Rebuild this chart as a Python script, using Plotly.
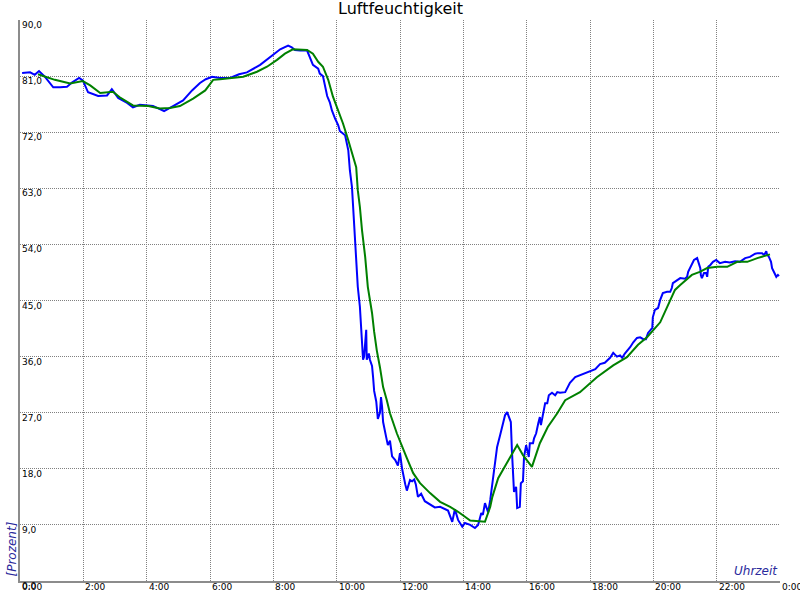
import plotly.graph_objects as go

# time in minutes after midnight, humidity in percent
blue_min = [4, 19, 28, 36, 47, 63, 76, 89, 99, 112, 119, 129, 148, 165, 174, 186, 203, 214, 227, 241,
            252, 265, 273, 290, 309, 326, 341, 352, 364, 379, 398, 415, 430, 455, 466, 478, 493, 508, 515, 521,
            531, 544, 550, 555, 565, 568, 574, 578, 582, 587, 591, 597, 603, 606, 612, 616, 622, 625, 629, 631,
            633, 635, 639, 640, 644, 646, 648, 650, 652, 654, 656, 657, 661, 663, 667, 669, 671, 675, 678, 682,
            684, 686, 688, 694, 697, 701, 705, 711, 716, 720, 724, 730, 733, 739, 743, 747, 750, 754, 760, 767,
            777, 786, 796, 805, 811, 819, 824, 830, 838, 843, 853, 862, 868, 874, 877, 881, 887, 891, 896, 900,
            904, 910, 915, 919, 923, 927, 930, 932, 934, 936, 940, 942, 947, 949, 953, 955, 959, 961, 964, 966,
            972, 974, 978, 982, 985, 987, 991, 995, 999, 1002, 1008, 1014, 1018, 1023, 1033, 1042, 1052, 1061, 1071, 1080,
            1090, 1099, 1108, 1118, 1124, 1131, 1137, 1141, 1146, 1156, 1162, 1169, 1175, 1181, 1186, 1190, 1194, 1198, 1199, 1203,
            1209, 1213, 1218, 1226, 1232, 1235, 1237, 1245, 1251, 1260, 1264, 1266, 1270, 1273, 1277, 1283, 1285, 1289, 1290, 1292,
            1296, 1300, 1302, 1304, 1308, 1313, 1319, 1323, 1326, 1336, 1345, 1355, 1364, 1374, 1383, 1393, 1398, 1406, 1410, 1414,
            1415, 1419, 1423, 1425, 1429, 1433, 1436, 1438]
blue_val = [81.5, 81.6, 81.2, 81.8, 80.9, 79.2, 79.2, 79.3, 80.0, 80.7, 80.3, 78.4, 77.8, 77.9, 78.9, 77.5, 76.7, 76.0, 76.4, 76.3,
            76.2, 75.7, 75.4, 76.2, 77.1, 78.7, 79.9, 80.5, 80.9, 80.7, 80.7, 81.3, 81.6, 82.8, 83.5, 84.4, 85.3, 85.9, 85.6, 85.2,
            85.1, 85.1, 84.0, 82.8, 82.2, 81.4, 81.0, 79.3, 77.8, 76.8, 75.5, 74.2, 73.1, 72.2, 71.8, 71.5, 69.1, 65.9, 63.2, 60.6,
            57.9, 54.5, 49.9, 47.2, 44.0, 40.5, 37.5, 35.5, 36.0, 38.0, 40.3, 35.5, 36.5, 35.5, 34.5, 32.7, 30.5, 28.8, 26.0, 27.0,
            29.5, 28.0, 25.5, 23.0, 21.8, 22.5, 20.0, 19.4, 18.5, 20.5, 18.0, 15.5, 14.5, 16.2, 16.0, 16.3, 15.5, 13.5, 14.0, 12.8,
            12.2, 11.8, 11.9, 11.6, 11.3, 9.5, 11.5, 9.8, 8.7, 9.3, 9.0, 8.5, 9.0, 10.9, 10.6, 12.5, 11.0, 13.0, 16.0, 18.5,
            21.5, 23.5, 25.5, 26.6, 27.1, 26.3, 25.5, 21.0, 17.5, 14.3, 15.1, 11.7, 11.9, 15.7, 16.0, 19.9, 21.8, 21.0, 19.9, 22.1,
            22.1, 22.9, 23.7, 25.3, 26.3, 25.0, 26.9, 28.5, 28.5, 29.8, 30.2, 29.8, 30.3, 30.2, 30.3, 31.8, 32.7, 33.0, 33.4, 33.6,
            34.0, 34.8, 35.0, 35.8, 36.6, 36.0, 36.2, 35.8, 36.5, 37.5, 38.3, 39.0, 39.1, 38.8, 38.8, 39.8, 40.3, 40.6, 42.3, 43.5,
            43.8, 45.1, 46.2, 46.4, 46.4, 47.0, 47.8, 48.3, 48.6, 48.5, 48.8, 49.6, 50.4, 51.0, 51.5, 51.8, 51.2, 50.2, 49.1, 48.6,
            49.4, 49.4, 48.8, 50.4, 50.7, 51.2, 51.5, 51.2, 51.0, 51.2, 51.1, 51.3, 51.2, 51.8, 52.0, 52.5, 52.6, 52.6, 52.3, 52.9,
            52.5, 52.0, 51.2, 50.2, 49.4, 48.8, 49.1, 48.9]

green_min = [34, 47, 66, 95, 108, 119, 133, 152, 176, 189, 214, 243, 265, 284, 303, 328, 351, 366, 379, 423,
             449, 468, 487, 502, 517, 544, 555, 565, 574, 584, 593, 603, 612, 622, 631, 637, 640, 644, 648, 654,
             659, 667, 671, 676, 682, 688, 695, 701, 714, 724, 733, 745, 758, 777, 796, 815, 830, 853, 881, 891,
             895, 906, 923, 932, 942, 953, 970, 985, 1000, 1018, 1033, 1061, 1093, 1124, 1150, 1171, 1188, 1213, 1226, 1241,
             1251, 1273, 1288, 1302, 1321, 1340, 1359, 1378, 1397, 1421]
green_val = [81.3, 80.9, 80.4, 79.8, 80.0, 80.2, 79.5, 78.3, 78.5, 77.6, 76.3, 76.2, 75.8, 75.9, 76.2, 77.4, 78.7, 80.4, 80.5, 80.9,
             81.7, 82.5, 83.6, 84.6, 85.3, 85.2, 84.6, 83.3, 82.5, 80.4, 77.7, 75.5, 73.4, 70.7, 68.0, 66.4, 62.7, 60.0, 56.3, 52.0,
             47.2, 43.0, 40.0, 37.0, 34.3, 31.1, 29.0, 26.9, 23.7, 21.5, 19.7, 17.3, 15.7, 14.1, 12.7, 11.9, 11.1, 9.7, 9.5, 11.9,
             13.5, 16.5, 18.9, 20.2, 21.8, 20.2, 18.3, 22.1, 24.7, 26.9, 29.0, 30.3, 32.7, 34.6, 35.9, 37.9, 39.1, 41.5, 44.0, 46.7,
             47.5, 49.1, 49.6, 50.2, 50.4, 50.4, 51.2, 51.2, 51.8, 52.4]

x_ticks = [0, 120, 240, 360, 480, 600, 720, 840, 960, 1080, 1200, 1320, 1440]
x_labels = ["0:00", "2:00", "4:00", "6:00", "8:00", "10:00", "12:00", "14:00", "16:00", "18:00", "20:00", "22:00", "0:00"]
y_ticks = [0, 9, 18, 27, 36, 45, 54, 63, 72, 81, 90]
y_labels = ["0,0", "9,0", "18,0", "27,0", "36,0", "45,0", "54,0", "63,0", "72,0", "81,0", "90,0"]

FONT = "DejaVu Sans"
GRID = "#808080"
AXIS = "#8c8c8c"
LABEL_BLUE = "#2a2a9c"

fig = go.Figure()
fig.add_trace(go.Scatter(x=blue_min, y=blue_val, mode="lines",
                         line=dict(color="#0000ff", width=2), hoverinfo="skip"))
fig.add_trace(go.Scatter(x=green_min, y=green_val, mode="lines",
                         line=dict(color="#008000", width=2), hoverinfo="skip"))

fig.update_layout(
    width=800, height=600,
    margin=dict(l=20, r=20, t=20, b=19, autoexpand=False),
    paper_bgcolor="white", plot_bgcolor="white",
    showlegend=False,
    font=dict(family=FONT, size=9, color="black"),
    xaxis=dict(range=[0, 1440], tickvals=x_ticks, showticklabels=False, automargin=False,
               showgrid=True, gridcolor=GRID, gridwidth=1, griddash="1px,1px",
               zeroline=False, showline=True, linecolor=AXIS, linewidth=2, ticks=""),
    yaxis=dict(range=[0, 90], tickvals=y_ticks, showticklabels=False, automargin=False,
               showgrid=True, gridcolor=GRID, gridwidth=1, griddash="1px,1px",
               zeroline=False, showline=True, linecolor=AXIS, linewidth=2, ticks=""),
)

# tick labels: x labels left-aligned below each tick, y labels inside, just below each grid line
for xv, lab in zip(x_ticks, x_labels):
    fig.add_annotation(text=lab, xref="x", yref="paper", x=xv, y=0,
                       xanchor="left", yanchor="top", yshift=1, showarrow=False,
                       font=dict(family=FONT, size=9, color="black"))
for yv, lab in zip(y_ticks, y_labels):
    fig.add_annotation(text=lab, xref="paper", yref="y", x=0, y=yv,
                       xanchor="left", yanchor="top", yshift=2, showarrow=False,
                       font=dict(family=FONT, size=9, color="black"))

fig.add_annotation(text="Luftfeuchtigkeit", xref="paper", yref="paper", x=0.5, y=1,
                   xanchor="center", yanchor="bottom", yshift=0, showarrow=False,
                   font=dict(family=FONT, size=16, color="black"))
fig.add_annotation(text="<i>Uhrzeit</i>", xref="paper", yref="paper", x=1, y=0,
                   xanchor="right", yanchor="bottom", yshift=1, showarrow=False,
                   font=dict(family=FONT, size=12, color=LABEL_BLUE))
fig.add_annotation(text="<i>[Prozent]</i>", xref="paper", yref="paper", x=0, y=0,
                   xanchor="center", yanchor="bottom", xshift=-9, yshift=2,
                   textangle=-90, showarrow=False,
                   font=dict(family=FONT, size=12, color=LABEL_BLUE))

fig.write_html("out.html", config={"displayModeBar": False},
               post_script="document.body.style.margin='0';document.body.style.overflow='hidden';")
